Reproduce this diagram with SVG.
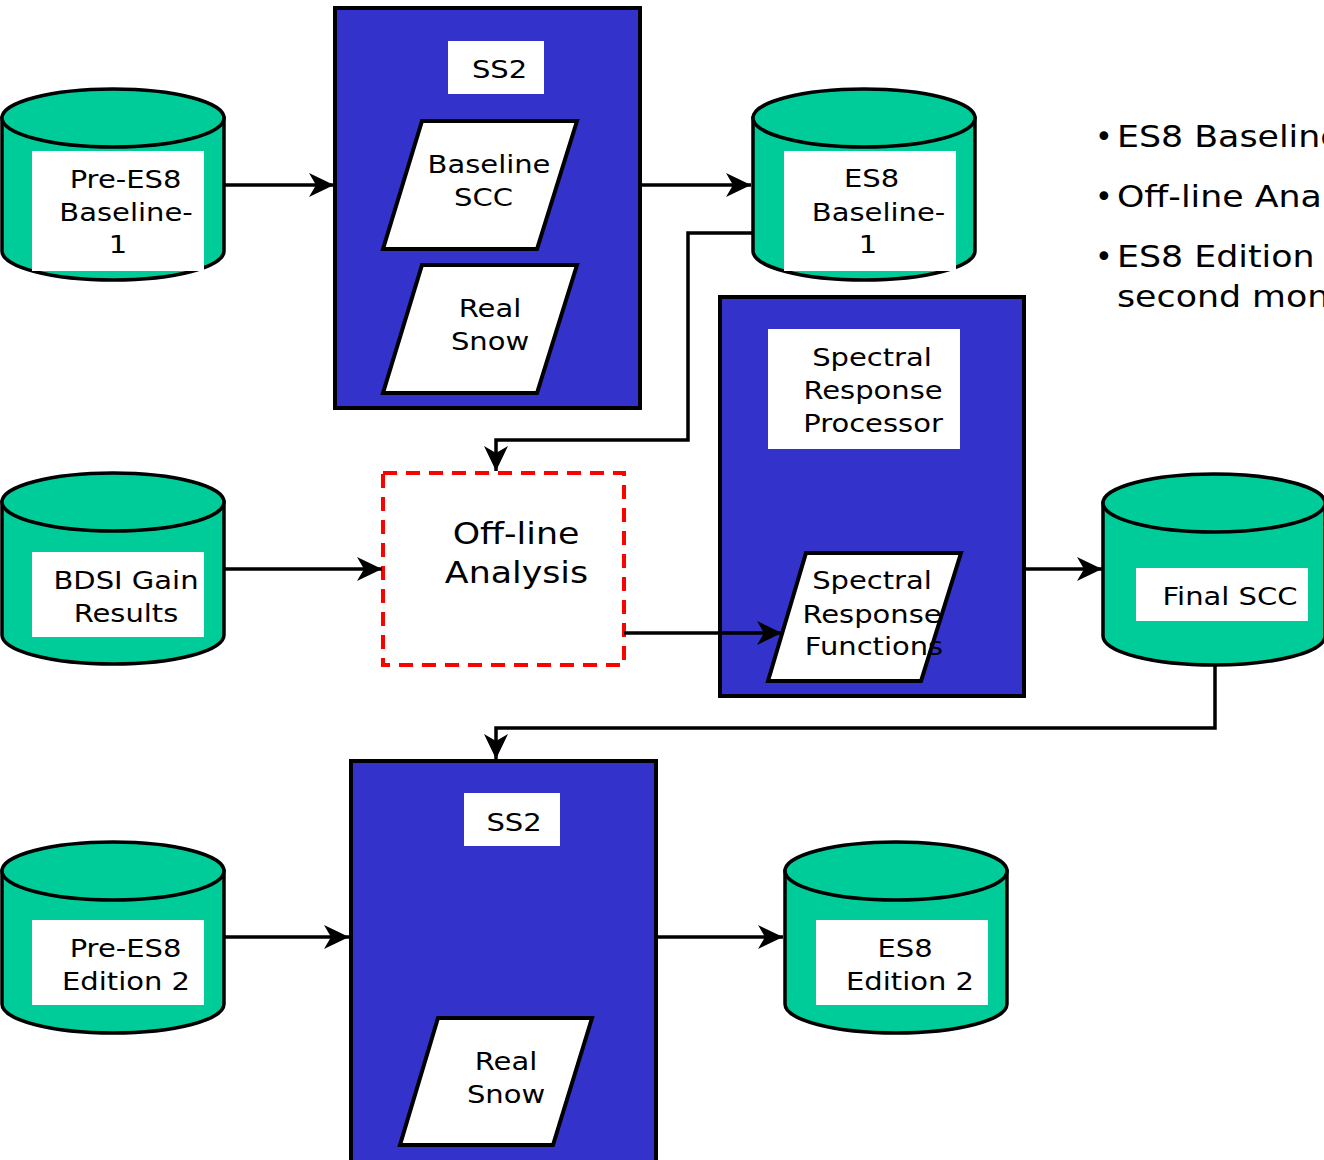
<svg xmlns="http://www.w3.org/2000/svg" width="1324" height="1160" viewBox="0 0 1324 1160">
<style>
  .cylb{fill:#00CC99;stroke:#000;stroke-width:3.5}
  .lab{fill:#fff;stroke:none}
  .proc{fill:#3333CC;stroke:#000;stroke-width:4}
  .para{fill:#fff;stroke:#000;stroke-width:4;stroke-linejoin:miter}
  .dash{fill:#fff;stroke:#FF0000;stroke-width:4;stroke-dasharray:14 9}
  .t{font-family:"DejaVu Sans",Verdana,sans-serif;font-size:25px;fill:#000;text-anchor:middle}
  .tl{font-family:"DejaVu Sans",Verdana,sans-serif;font-size:30px;fill:#000;text-anchor:middle}
  .tb{font-family:"DejaVu Sans",Verdana,sans-serif;font-size:30px;fill:#000}
  .conn{fill:none;stroke:#000;stroke-width:3.5;marker-end:url(#ah)}
</style>
<defs>
  <marker id="ah" viewBox="-26 -13 27 26" refX="0" refY="0" markerWidth="27" markerHeight="26" markerUnits="userSpaceOnUse" orient="auto">
    <path d="M0,0 L-25,-12 L-18,0 L-25,12 Z" fill="#000"/>
  </marker>
  <g id="cyl">
    <path class="cylb" d="M0,30 L0,163 A111,29 0 0 0 222,163 L222,30 Z"/>
    <ellipse class="cylb" cx="111" cy="30" rx="111" ry="29"/>
  </g>
</defs>

<g id="pre-es8-baseline">
  <use href="#cyl" transform="translate(2,88)"/>
  <rect class="lab" x="32" y="151" width="172" height="120"/>
  <text class="t" transform="translate(125.5,188) scale(1.16,1)">Pre-ES8</text>
  <text class="t" transform="translate(126,221) scale(1.16,1)">Baseline-</text>
  <text class="t" transform="translate(118,253) scale(1.16,1)">1</text>
</g>

<g id="ss2-top">
  <rect class="proc" x="335" y="8" width="305" height="400"/>
  <rect class="lab" x="448" y="41" width="96" height="53"/>
  <text class="t" transform="translate(499.5,78) scale(1.16,1)">SS2</text>
</g>
<g id="baseline-scc">
  <polygon class="para" points="422,121 577,121 537,249 383,249"/>
  <text class="t" transform="translate(489,173) scale(1.16,1)">Baseline</text>
  <text class="t" transform="translate(483.5,206) scale(1.16,1)">SCC</text>
</g>
<g id="real-snow-top">
  <polygon class="para" points="422,265 577,265 537,393 383,393"/>
  <text class="t" transform="translate(490,317) scale(1.16,1)">Real</text>
  <text class="t" transform="translate(490,350) scale(1.16,1)">Snow</text>
</g>

<g id="es8-baseline">
  <use href="#cyl" transform="translate(753,88)"/>
  <rect class="lab" x="784" y="151" width="172" height="120"/>
  <text class="t" transform="translate(871.5,187) scale(1.16,1)">ES8</text>
  <text class="t" transform="translate(878.5,221) scale(1.16,1)">Baseline-</text>
  <text class="t" transform="translate(868,253) scale(1.16,1)">1</text>
</g>

<g id="notes">
  <text class="tb" x="1095" y="147">•</text>
  <text class="tb" transform="translate(1117,147) scale(1.16,1)">ES8 Baseline</text>
  <text class="tb" x="1095" y="207">•</text>
  <text class="tb" transform="translate(1117,207) scale(1.16,1)">Off-line Analysis</text>
  <text class="tb" x="1095" y="267">•</text>
  <text class="tb" transform="translate(1117,267) scale(1.16,1)">ES8 Edition</text>
  <text class="tb" transform="translate(1117,307) scale(1.16,1)">second month</text>
</g>

<g id="bdsi-gain">
  <use href="#cyl" transform="translate(2,472)"/>
  <rect class="lab" x="32" y="552" width="172" height="85"/>
  <text class="t" transform="translate(126,589) scale(1.16,1)">BDSI Gain</text>
  <text class="t" transform="translate(126,622) scale(1.16,1)">Results</text>
</g>

<g id="offline-analysis">
  <rect class="dash" x="383" y="473" width="241" height="192"/>
  <text class="tl" transform="translate(516,544) scale(1.16,1)">Off-line</text>
  <text class="tl" transform="translate(516.5,583) scale(1.16,1)">Analysis</text>
</g>

<g id="spectral-response-processor">
  <rect class="proc" x="720" y="297" width="304" height="399"/>
  <rect class="lab" x="768" y="329" width="192" height="120"/>
  <text class="t" transform="translate(872,366) scale(1.16,1)">Spectral</text>
  <text class="t" transform="translate(873,399) scale(1.16,1)">Response</text>
  <text class="t" transform="translate(873,432) scale(1.16,1)">Processor</text>
</g>
<g id="spectral-response-functions">
  <polygon class="para" points="806,553 961,553 921,681 768,681"/>
  <text class="t" transform="translate(872,589) scale(1.16,1)">Spectral</text>
  <text class="t" transform="translate(872,623) scale(1.16,1)">Response</text>
  <text class="t" transform="translate(874,655) scale(1.16,1)">Functions</text>
</g>

<g id="final-scc">
  <use href="#cyl" transform="translate(1103,473)"/>
  <rect class="lab" x="1136" y="568" width="172" height="53"/>
  <text class="t" transform="translate(1230,605) scale(1.16,1)">Final SCC</text>
</g>

<g id="ss2-bottom">
  <rect class="proc" x="351" y="761" width="305" height="420"/>
  <rect class="lab" x="464" y="793" width="96" height="53"/>
  <text class="t" transform="translate(514,831) scale(1.16,1)">SS2</text>
</g>
<g id="real-snow-bottom">
  <polygon class="para" points="438,1018 592,1018 553,1145 400,1145"/>
  <text class="t" transform="translate(506,1070) scale(1.16,1)">Real</text>
  <text class="t" transform="translate(506,1103) scale(1.16,1)">Snow</text>
</g>

<g id="pre-es8-edition2">
  <use href="#cyl" transform="translate(2,841)"/>
  <rect class="lab" x="32" y="920" width="172" height="85"/>
  <text class="t" transform="translate(125.5,957) scale(1.16,1)">Pre-ES8</text>
  <text class="t" transform="translate(126,990) scale(1.16,1)">Edition 2</text>
</g>

<g id="es8-edition2">
  <use href="#cyl" transform="translate(785,841)"/>
  <rect class="lab" x="816" y="920" width="172" height="85"/>
  <text class="t" transform="translate(905,957) scale(1.16,1)">ES8</text>
  <text class="t" transform="translate(910,990) scale(1.16,1)">Edition 2</text>
</g>

<g id="connectors">
  <path class="conn" d="M224,185 L334,185"/>
  <path class="conn" d="M640,185 L751,185"/>
  <path class="conn" d="M753,233 L688,233 L688,440 L496,440 L496,471"/>
  <path class="conn" d="M224,569 L382,569"/>
  <path class="conn" d="M624,633 L782,633"/>
  <path class="conn" d="M1024,569 L1102,569"/>
  <path class="conn" d="M1215,664 L1215,728 L496,728 L496,759"/>
  <path class="conn" d="M224,937 L349,937"/>
  <path class="conn" d="M656,937 L783,937"/>
</g>
</svg>
